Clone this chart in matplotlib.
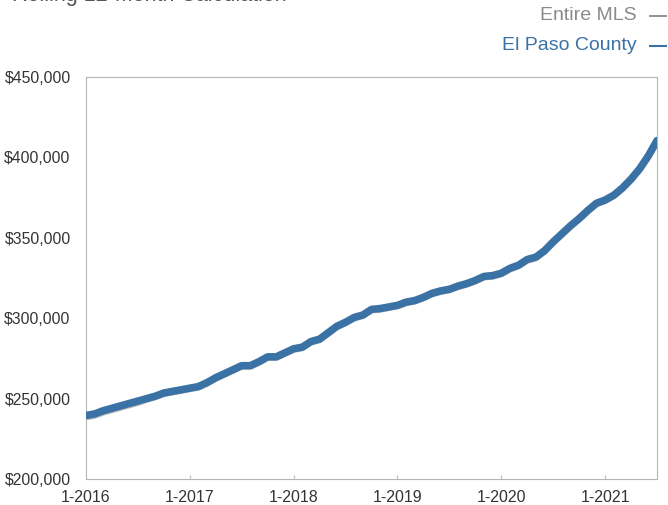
import matplotlib
matplotlib.use("Agg")
import matplotlib.pyplot as plt
from matplotlib.lines import Line2D
from matplotlib.ticker import FuncFormatter

plt.rcParams['font.family'] = ['Liberation Sans', 'DejaVu Sans']

# Rolling 12-month median sales price, monthly from Jan 2016 to Jul 2021 (in $1,000)
el_paso = [239.5, 240.5, 242.5, 244, 245.5, 247, 248.5, 250, 251.5, 253.5, 254.5, 255.5,
           256.5, 257.5, 260, 263, 265.5, 268, 270.5, 270.5, 273, 276, 276, 278.5,
           281, 282, 285.5, 287, 291, 295, 297.5, 300.5, 302, 305.5, 306, 307,
           308, 310, 311, 313, 315.5, 317, 318, 320, 321.5, 323.5, 326, 326.5,
           328, 331, 333, 336.5, 338, 342, 347.5, 352.5, 357.5, 362, 367, 371.5,
           373.5, 376.5, 381, 386.5, 393, 401, 410.5]
entire_mls = [238.5, 239.5, 241.5, 243, 244.5, 246, 247.5, 249.5, 251, 253, 254, 255,
              256, 257, 259.5, 262.5, 265, 267.5, 270, 270, 272.5, 275.5, 275.5, 278,
              280.5, 281.5, 285, 286.5, 290.5, 294.5, 297, 300, 301.5, 305, 305.5, 306.5,
              307.5, 309.5, 310.5, 312.5, 315, 316.5, 317.5, 319.5, 321, 323, 325.5, 326,
              327.5, 330.5, 332.5, 336, 337.5, 341.5, 347, 352, 357, 361.5, 366.5, 371,
              373, 376, 380.5, 386, 392.5, 400.5, 410]
tick_months = [0, 12, 24, 36, 48, 60]
tick_labels = ['1-2016', '1-2017', '1-2018', '1-2019', '1-2020', '1-2021']
y_ticks = [200000, 250000, 300000, 350000, 400000, 450000]

BLUE = '#3a72a6'
GREY = '#8a8a8a'

fig = plt.figure(figsize=(6.68, 5.05), dpi=100)
ax = fig.add_axes([86 / 668, 26 / 505, (657 - 86) / 668, (479 - 77) / 505])

months = list(range(len(el_paso)))
ax.plot(months, [v * 1000 for v in entire_mls], color='#b8b8b8', lw=4.8,
        solid_capstyle='round', zorder=2)
ax.plot(months, [v * 1000 for v in el_paso], color=BLUE, lw=5.4,
        solid_capstyle='round', zorder=3)

ax.set_xlim(0, 66)
ax.set_ylim(200000, 450000)
ax.set_xticks(tick_months)
ax.set_xticklabels(tick_labels)
ax.set_yticks(y_ticks)
ax.yaxis.set_major_formatter(FuncFormatter(lambda v, p: f"${v:,.0f}"))

for s in ax.spines.values():
    s.set_color('#b5b5b5')
    s.set_linewidth(0.8)

ax.tick_params(axis='y', length=0, pad=11, labelsize=11.3, labelcolor='#333333')
ax.tick_params(axis='x', length=3, direction='in', color='#c0c0c0', pad=8,
               labelsize=11.5, labelcolor='#333333')

# Title, running off the top edge of the page
fig.text(12 / 668, 1 - 1 / 505, 'Rolling 12-Month Calculation', fontsize=15.5,
         color='#555555', ha='left', va='baseline')

# Legend entries drawn at the top right
fig.text(637 / 668, 1 - 16 / 505, 'Entire MLS', fontsize=14, color=GREY,
         ha='right', va='center')
fig.text(637 / 668, 1 - 46 / 505, 'El Paso County', fontsize=14, color=BLUE,
         ha='right', va='center')
fig.add_artist(Line2D([650 / 668, 666 / 668], [1 - 16 / 505, 1 - 16 / 505],
                      color=GREY, lw=1.3, transform=fig.transFigure))
fig.add_artist(Line2D([650 / 668, 666 / 668], [1 - 46 / 505, 1 - 46 / 505],
                      color=BLUE, lw=1.5, transform=fig.transFigure))

fig.savefig('out.png', dpi=100)
